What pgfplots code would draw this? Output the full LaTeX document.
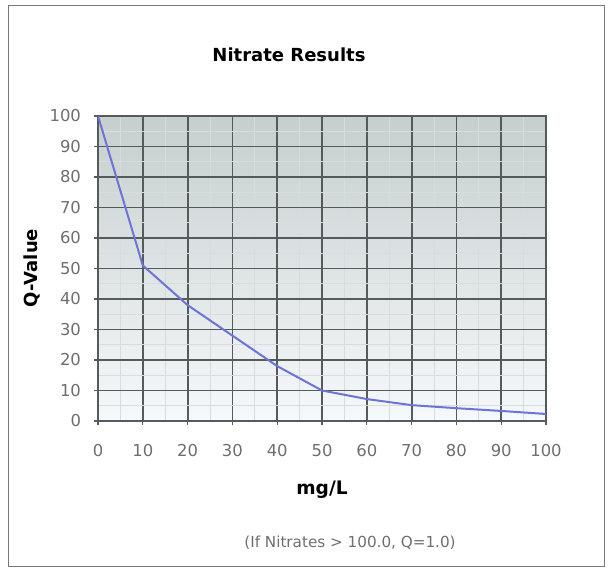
\documentclass[border=0pt]{standalone}
\usepackage{pgfplots}
\pgfplotsset{compat=1.18}
\usepackage{fontspec}
\setmainfont{DejaVu Sans}
\definecolor{gridc}{RGB}{85,90,90}
\definecolor{minorc}{RGB}{215,220,222}
\definecolor{linec}{RGB}{110,115,215}
\definecolor{tickc}{RGB}{110,110,110}
\definecolor{frame}{RGB}{120,120,120}
\begin{document}
\begin{tikzpicture}
  % page area and outer frame (1px = 0.5pt)
  \path (0pt,0pt) rectangle (307pt,284pt);
  \draw[frame, line width=0.5pt] (4pt,1pt) rectangle (302pt,281pt);
  \begin{axis}[
    at={(49pt,73.5pt)}, anchor=south west,
    scale only axis, width=224pt, height=152.5pt,
    xmin=0, xmax=100, ymin=0, ymax=100,
    xtick={0,10,...,100}, ytick={0,10,...,100},
    minor x tick num=1, minor y tick num=1,
    grid=both,
    major grid style={gridc, line width=0.9pt},
    minor grid style={minorc, line width=0.4pt},
    axis line style={gridc, line width=0.9pt},
    tick align=outside, major tick length=2pt, minor tick length=0pt,
    tick style={gridc, line width=0.6pt},
    xtick pos=left, ytick pos=left,
    axis background/.style={top color={rgb,255:red,198;green,206;blue,206}, bottom color={rgb,255:red,246;green,249;blue,251}},
    ticklabel style={font=\fontsize{8.2}{9}\selectfont, text=tickc},
    /pgf/number format/assume math mode=true,
    xticklabel style={yshift=-6pt},
    yticklabel style={xshift=-3pt},
  ]
    \addplot[linec, line width=1pt, no marks] coordinates {
      (0,100) (10,51) (20,38) (30,28) (40,18) (50,10)
      (60,7.2) (70,5.2) (80,4.2) (90,3.3) (100,2.3)
    };
  \end{axis}
  \node[font=\fontsize{9}{11}\selectfont\bfseries] at (144.5pt,256.5pt) {Nitrate Results};
  \node[font=\fontsize{9}{11}\selectfont\bfseries, rotate=90] at (16pt,150pt) {Q-Value};
  \node[font=\fontsize{9.3}{11}\selectfont\bfseries] at (161pt,39pt) {mg/L};
  \node[font=\fontsize{7.6}{9}\selectfont, text=tickc] at (175pt,12.5pt) {(If Nitrates > 100.0, Q=1.0)};
\end{tikzpicture}
\end{document}
